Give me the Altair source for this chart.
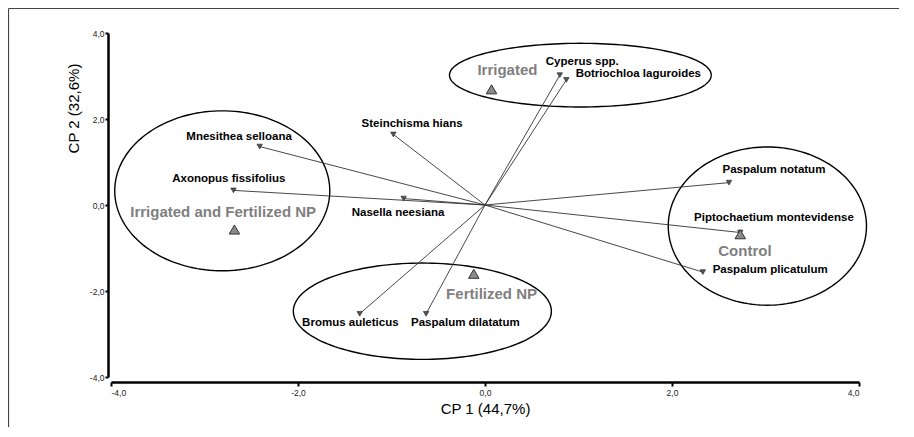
import altair as alt
import pandas as pd
import numpy as np

# ---- species (biplot vectors, end points) ----
species = ["Cyperus spp.", "Botriochloa laguroides", "Steinchisma hians",
           "Mnesithea selloana", "Axonopus fissifolius", "Nasella neesiana",
           "Paspalum notatum", "Piptochaetium montevidense", "Paspalum plicatulum",
           "Bromus auleticus", "Paspalum dilatatum"]
sp_x = [0.80, 0.87, -0.98, -2.41, -2.69, -0.87, 2.61, 2.73, 2.33, -1.34, -0.63]
sp_y = [3.02, 2.91, 1.64, 1.36, 0.34, 0.15, 0.52, -0.64, -1.56, -2.53, -2.53]
# label anchor (centre of text) in data units
sp_lx = [1.04, 1.64, -0.78, -2.63, -2.74, -0.93, 3.09, 3.09, 3.05, -1.44, -0.21]
sp_ly = [3.33, 3.05, 1.89, 1.58, 0.60, -0.18, 0.81, -0.30, -1.52, -2.74, -2.74]

# ---- treatments ----
treat = ["Irrigated", "Irrigated and Fertilized NP", "Fertilized NP", "Control"]
tr_x = [0.07, -2.68, -0.12, 2.73]
tr_y = [2.69, -0.57, -1.60, -0.68]
tr_lx = [0.24, -2.80, 0.07, 2.78]
tr_ly = [3.14, -0.16, -2.06, -1.07]

# ---- grouping ellipses (centre, semi-axes) ----
ell_name = ["Irrigated", "Irrigated and Fertilized NP", "Fertilized NP", "Control"]
ell_cx = [1.02, -2.81, -0.67, 3.02]
ell_cy = [3.02, 0.33, -2.47, -0.49]
ell_rx = [1.40, 1.15, 1.38, 1.06]
ell_ry = [0.74, 1.86, 1.12, 1.84]

ticks = [-4, -2, 0, 2, 4]

# ---- tables ----
rows = []
t = np.linspace(0, 2 * np.pi, 161)
for n, cx, cy, rx, ry in zip(ell_name, ell_cx, ell_cy, ell_rx, ell_ry):
    for i, a in enumerate(t):
        rows.append({"e": n, "i": i, "x": cx + rx * np.cos(a), "y": cy + ry * np.sin(a)})
ell_df = pd.DataFrame(rows)

vec_df = pd.DataFrame({"name": species, "x": sp_x, "y": sp_y,
                       "x0": [0.0] * len(species), "y0": [0.0] * len(species)})
splab_df = pd.DataFrame({"name": species, "x": sp_lx, "y": sp_ly})
tr_df = pd.DataFrame({"name": treat, "x": tr_x, "y": tr_y})
trlab_df = pd.DataFrame({"name": treat, "x": tr_lx, "y": tr_ly})

FONT = "Liberation Sans"
label_expr = "(datum.value < 0 ? '-' : '') + abs(datum.value) + ',0'"

xscale = alt.Scale(domain=[-4, 4], nice=False, zero=False)
yscale = alt.Scale(domain=[-4, 4], nice=False, zero=False)

xaxis = alt.Axis(values=ticks, labelExpr=label_expr, title="CP 1 (44,7%)", grid=False,
                 domainColor="black", domainWidth=2.5, tickColor="black", tickWidth=2,
                 tickSize=4, labelFontSize=8.5, labelColor="#222", labelPadding=2,
                 labelFont=FONT, offset=5, titleFont=FONT, titleFontSize=15,
                 titleFontWeight="normal", titleColor="black", titlePadding=5)
yaxis = alt.Axis(values=ticks, labelExpr=label_expr, title="CP 2 (32,6%)", grid=False,
                 domainColor="black", domainWidth=2.5, tickColor="black", tickWidth=2,
                 tickSize=3, labelFontSize=8.5, labelColor="#222", labelPadding=1,
                 labelFont=FONT, offset=3, titleFont=FONT, titleFontSize=15,
                 titleFontWeight="normal", titleColor="black",
                 titleX=-35, titleY=75, titleAlign="center", titleBaseline="middle",
                 titleAngle=270)

X = alt.X("x:Q", scale=xscale, axis=xaxis)
Y = alt.Y("y:Q", scale=yscale, axis=yaxis)

frame_df = pd.DataFrame({"a": [0]})
frame_v = alt.Chart(frame_df).mark_rule(color="#444", strokeWidth=1.2).encode(
    x=alt.value(-102.5), y=alt.value(-24.5), y2=alt.value(420))
frame_h = alt.Chart(frame_df).mark_rule(color="#444", strokeWidth=1.2).encode(
    x=alt.value(-102.5), x2=alt.value(800), y=alt.value(-24.5))

ellipses = alt.Chart(ell_df).mark_line(color="black", strokeWidth=1.4).encode(
    x=X, y=Y, detail="e:N", order="i:Q")

vectors = alt.Chart(vec_df).mark_rule(color="#333", strokeWidth=0.9).encode(
    x=X, y=Y, x2="x0:Q", y2="y0:Q")

sp_pts = alt.Chart(vec_df).mark_point(shape="triangle-down", filled=True, size=30,
                                      color="#555", stroke="#222", strokeWidth=0.6,
                                      opacity=1).encode(x=X, y=Y)

tr_pts = alt.Chart(tr_df).mark_point(shape="triangle-up", filled=True, size=110,
                                     fill="#8a8a8a", stroke="#333", strokeWidth=1,
                                     opacity=1).encode(x=X, y=Y)

sp_text = alt.Chart(splab_df).mark_text(font=FONT, fontSize=11.5, fontWeight="bold",
                                        color="black", align="center",
                                        baseline="middle").encode(x=X, y=Y, text="name:N")

tr_text = alt.Chart(trlab_df).mark_text(font=FONT, fontSize=15, fontWeight="bold",
                                        color="#7f7f7f", align="center",
                                        baseline="middle").encode(x=X, y=Y, text="name:N")

chart = alt.layer(ellipses, vectors, sp_pts, tr_pts, sp_text, tr_text, frame_v, frame_h).properties(
    width=748, height=344,
    padding={"left": 103, "top": 25, "right": 40, "bottom": 50},
    autosize=alt.AutoSizeParams(type="none"),
    background="white",
).configure_view(stroke=None)

chart.save("out.html", embed_options={"renderer": "svg", "actions": False})
